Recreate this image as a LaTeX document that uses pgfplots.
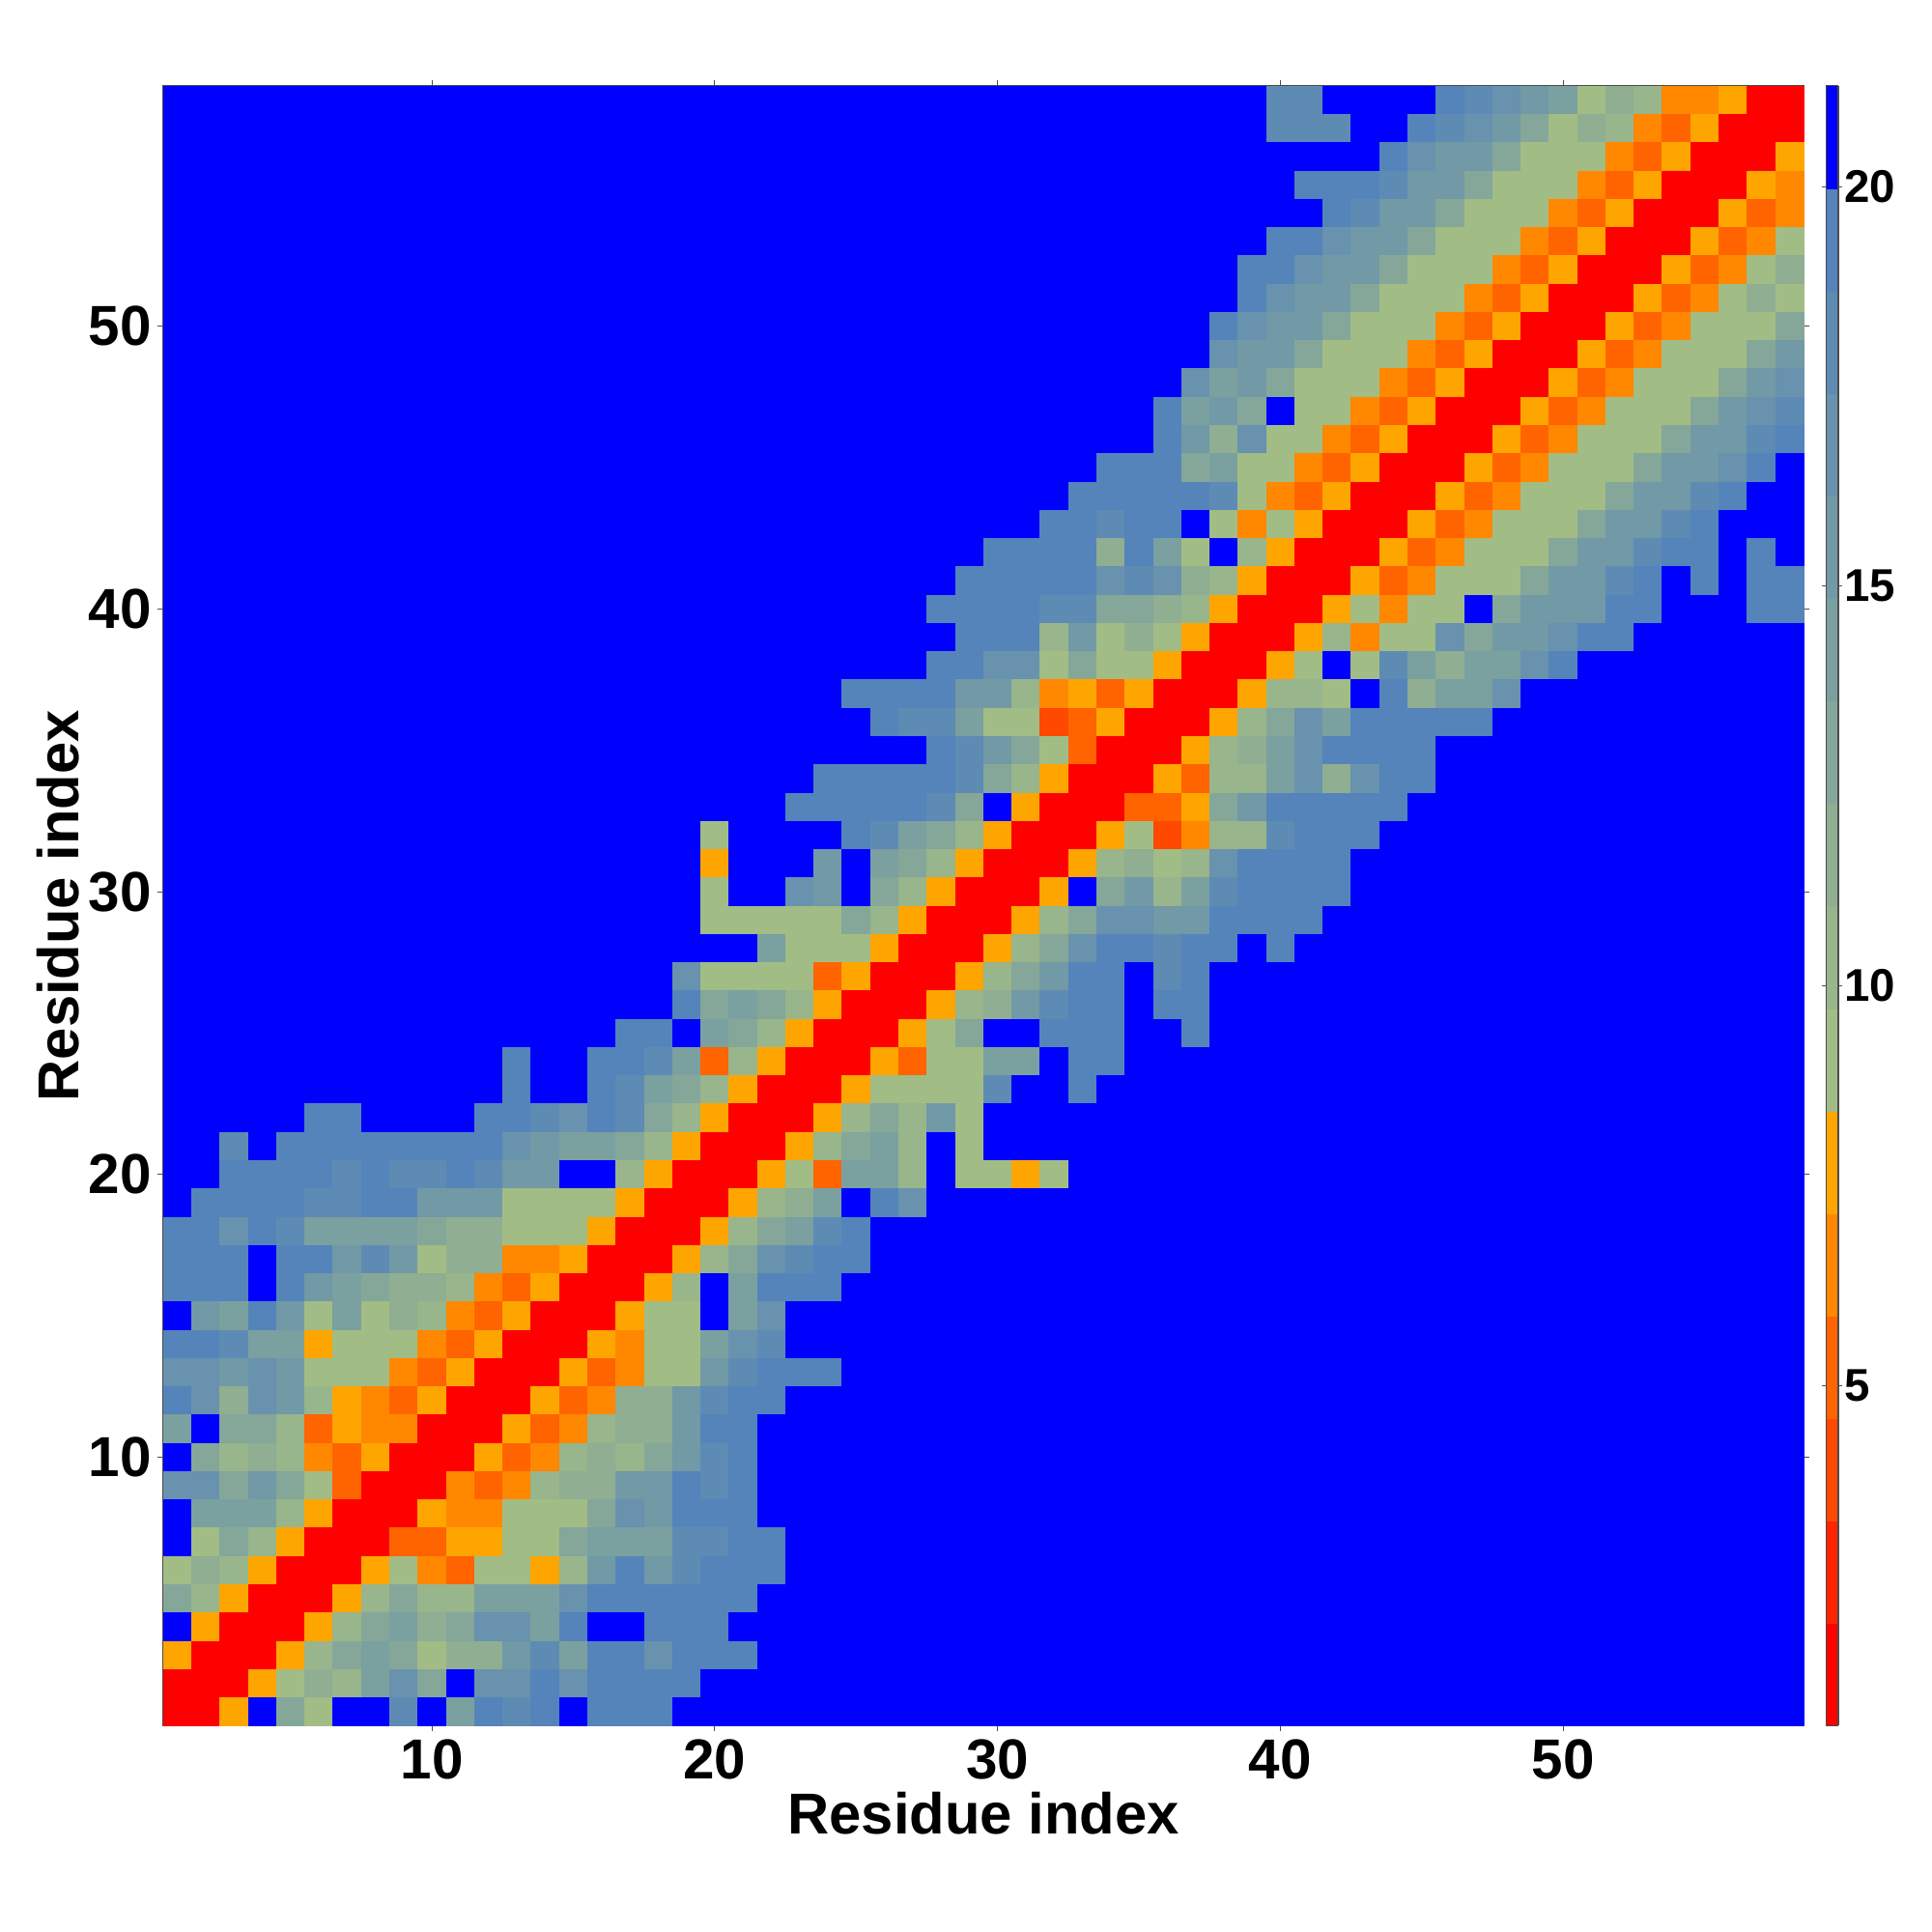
\documentclass[border=0pt]{standalone}
\usepackage{fontspec}
\setmainfont{Liberation Sans}
\usepackage{pgfplots}
\usepackage{pgfplotstable}
\pgfplotsset{compat=1.18}
\pgfplotstableread[header=false]{
21 21 21 21 21 21 21 21 21 21  21 21 21 21 21 21 21 21 21 21  21 21 21 21 21 21 21 21 21 21  21 21 21 21 21 21 21 21 21 18  18 21 21 21 21 19 18 17 15 14  9 12 10 6 6 8 1 1
21 21 21 21 21 21 21 21 21 21  21 21 21 21 21 21 21 21 21 21  21 21 21 21 21 21 21 21 21 21  21 21 21 21 21 21 21 21 21 18  18 18 21 21 19 18 17 15 13 9  12 10 6 5 8 1 1 1
21 21 21 21 21 21 21 21 21 21  21 21 21 21 21 21 21 21 21 21  21 21 21 21 21 21 21 21 21 21  21 21 21 21 21 21 21 21 21 21  21 21 21 19 17 15 15 13 9 9  9 6 5 8 1 1 1 8
21 21 21 21 21 21 21 21 21 21  21 21 21 21 21 21 21 21 21 21  21 21 21 21 21 21 21 21 21 21  21 21 21 21 21 21 21 21 21 21  19 19 19 18 15 15 13 9 9 9  6 5 8 1 1 1 8 6
21 21 21 21 21 21 21 21 21 21  21 21 21 21 21 21 21 21 21 21  21 21 21 21 21 21 21 21 21 21  21 21 21 21 21 21 21 21 21 21  21 19 18 15 15 13 9 9 9 6  5 8 1 1 1 8 5 6
21 21 21 21 21 21 21 21 21 21  21 21 21 21 21 21 21 21 21 21  21 21 21 21 21 21 21 21 21 21  21 21 21 21 21 21 21 21 21 19  19 17 15 15 13 9 9 9 6 5  8 1 1 1 8 5 6 9
21 21 21 21 21 21 21 21 21 21  21 21 21 21 21 21 21 21 21 21  21 21 21 21 21 21 21 21 21 21  21 21 21 21 21 21 21 21 19 19  17 15 15 13 9 9 9 6 5 8  1 1 1 8 5 6 9 12
21 21 21 21 21 21 21 21 21 21  21 21 21 21 21 21 21 21 21 21  21 21 21 21 21 21 21 21 21 21  21 21 21 21 21 21 21 21 19 17  15 15 13 9 9 9 6 5 8 1  1 1 8 5 6 9 12 9
21 21 21 21 21 21 21 21 21 21  21 21 21 21 21 21 21 21 21 21  21 21 21 21 21 21 21 21 21 21  21 21 21 21 21 21 21 19 17 15  15 13 9 9 9 6 5 8 1 1  1 8 5 6 9 9 9 13
21 21 21 21 21 21 21 21 21 21  21 21 21 21 21 21 21 21 21 21  21 21 21 21 21 21 21 21 21 21  21 21 21 21 21 21 21 17 15 15  13 9 9 9 6 5 8 1 1 1  8 5 6 9 9 9 13 15
21 21 21 21 21 21 21 21 21 21  21 21 21 21 21 21 21 21 21 21  21 21 21 21 21 21 21 21 21 21  21 21 21 21 21 21 17 14 15 13  9 9 9 6 5 8 1 1 1 8  5 6 9 9 9 13 15 17
21 21 21 21 21 21 21 21 21 21  21 21 21 21 21 21 21 21 21 21  21 21 21 21 21 21 21 21 21 21  21 21 21 21 21 19 14 15 13 21  9 9 6 5 8 1 1 1 8 5  6 9 9 9 13 15 17 18
21 21 21 21 21 21 21 21 21 21  21 21 21 21 21 21 21 21 21 21  21 21 21 21 21 21 21 21 21 21  21 21 21 21 21 19 15 12 17 9  9 6 5 8 1 1 1 8 5 6  9 9 9 13 15 15 18 19
21 21 21 21 21 21 21 21 21 21  21 21 21 21 21 21 21 21 21 21  21 21 21 21 21 21 21 21 21 21  21 21 21 19 19 19 13 14 9 9  6 5 8 1 1 1 8 5 6 9  9 9 13 15 15 17 19 21
21 21 21 21 21 21 21 21 21 21  21 21 21 21 21 21 21 21 21 21  21 21 21 21 21 21 21 21 21 21  21 21 19 19 19 19 19 18 9 6  5 8 1 1 1 8 5 6 9 9  9 13 15 15 18 19 21 21
21 21 21 21 21 21 21 21 21 21  21 21 21 21 21 21 21 21 21 21  21 21 21 21 21 21 21 21 21 21  21 19 19 18 19 19 21 9 6 9  8 1 1 1 8 5 6 9 9 9  13 15 15 18 19 21 21 21
21 21 21 21 21 21 21 21 21 21  21 21 21 21 21 21 21 21 21 21  21 21 21 21 21 21 21 21 21 19  19 19 19 12 19 14 9 21 10 8  1 1 1 8 5 6 9 9 9 13  15 15 18 19 19 21 19 21
21 21 21 21 21 21 21 21 21 21  21 21 21 21 21 21 21 21 21 21  21 21 21 21 21 21 21 21 19 19  19 19 19 17 18 17 12 10 8 1  1 1 8 5 6 9 9 9 13 15  15 18 19 21 19 21 19 19
21 21 21 21 21 21 21 21 21 21  21 21 21 21 21 21 21 21 21 21  21 21 21 21 21 21 21 19 19 19  19 18 18 13 13 12 10 8 1 1  1 8 9 6 9 9 21 13 15 15  15 19 19 21 21 21 19 19
21 21 21 21 21 21 21 21 21 21  21 21 21 21 21 21 21 21 21 21  21 21 21 21 21 21 21 21 19 19  19 10 15 9 12 9 8 1 1 1  8 10 6 9 9 17 13 15 15 17  19 19 21 21 21 21 21 21
21 21 21 21 21 21 21 21 21 21  21 21 21 21 21 21 21 21 21 21  21 21 21 21 21 21 21 19 19 17  17 9 13 9 9 8 1 1 1 8  9 21 9 18 14 12 14 14 17 19  21 21 21 21 21 21 21 21
21 21 21 21 21 21 21 21 21 21  21 21 21 21 21 21 21 21 21 21  21 21 21 21 19 19 19 19 15 15  10 6 8 5 8 1 1 1 8 10  10 9 21 19 12 14 14 17 21 21  21 21 21 21 21 21 21 21
21 21 21 21 21 21 21 21 21 21  21 21 21 21 21 21 21 21 21 21  21 21 21 21 21 19 18 18 14 9  9 4 5 8 1 1 1 8 10 13  17 14 19 19 19 19 19 21 21 21  21 21 21 21 21 21 21 21
21 21 21 21 21 21 21 21 21 21  21 21 21 21 21 21 21 21 21 21  21 21 21 21 21 21 21 19 18 15  13 9 5 1 1 1 8 10 12 14  17 19 19 19 19 21 21 21 21 21  21 21 21 21 21 21 21 21
21 21 21 21 21 21 21 21 21 21  21 21 21 21 21 21 21 21 21 21  21 21 21 19 19 19 19 19 18 13  10 8 1 1 1 8 5 10 10 14  17 12 17 19 19 21 21 21 21 21  21 21 21 21 21 21 21 21
21 21 21 21 21 21 21 21 21 21  21 21 21 21 21 21 21 21 21 21  21 21 19 19 19 19 19 18 13 21  8 1 1 1 5 5 8 13 15 19  19 19 19 19 21 21 21 21 21 21  21 21 21 21 21 21 21 21
21 21 21 21 21 21 21 21 21 21  21 21 21 21 21 21 21 21 21 9  21 21 21 21 19 18 14 13 10 8  1 1 1 8 9 4 6 10 10 18  19 19 19 21 21 21 21 21 21 21  21 21 21 21 21 21 21 21
21 21 21 21 21 21 21 21 21 21  21 21 21 21 21 21 21 21 21 8  21 21 21 15 21 14 13 10 8 1  1 1 8 10 12 9 10 17 19 19  19 19 21 21 21 21 21 21 21 21  21 21 21 21 21 21 21 21
21 21 21 21 21 21 21 21 21 21  21 21 21 21 21 21 21 21 21 9  21 21 17 15 21 13 10 8 1 1  1 8 21 13 15 10 14 18 19 19  19 19 21 21 21 21 21 21 21 21  21 21 21 21 21 21 21 21
21 21 21 21 21 21 21 21 21 21  21 21 21 21 21 21 21 21 21 9  9 9 9 9 13 10 8 1 1 1  8 10 13 17 17 15 15 19 19 19  19 21 21 21 21 21 21 21 21 21  21 21 21 21 21 21 21 21
21 21 21 21 21 21 21 21 21 21  21 21 21 21 21 21 21 21 21 21  21 14 9 9 9 8 1 1 1 8  10 13 17 19 19 18 19 19 21 19  21 21 21 21 21 21 21 21 21 21  21 21 21 21 21 21 21 21
21 21 21 21 21 21 21 21 21 21  21 21 21 21 21 21 21 21 17 9  9 9 9 5 8 1 1 1 8 10  13 15 19 19 21 18 19 21 21 21  21 21 21 21 21 21 21 21 21 21  21 21 21 21 21 21 21 21
21 21 21 21 21 21 21 21 21 21  21 21 21 21 21 21 21 21 19 13  14 13 10 8 1 1 1 8 10 12  15 18 19 19 21 19 19 21 21 21  21 21 21 21 21 21 21 21 21 21  21 21 21 21 21 21 21 21
21 21 21 21 21 21 21 21 21 21  21 21 21 21 21 21 19 19 21 14  13 10 8 1 1 1 8 9 13 21  21 19 19 19 21 21 19 21 21 21  21 21 21 21 21 21 21 21 21 21  21 21 21 21 21 21 21 21
21 21 21 21 21 21 21 21 21 21  21 21 19 21 21 19 19 18 14 5  10 8 1 1 1 8 5 9 9 14  14 21 19 19 21 21 21 21 21 21  21 21 21 21 21 21 21 21 21 21  21 21 21 21 21 21 21 21
21 21 21 21 21 21 21 21 21 21  21 21 19 21 21 19 18 14 13 10  8 1 1 1 8 9 9 9 9 18  21 21 19 21 21 21 21 21 21 21  21 21 21 21 21 21 21 21 21 21  21 21 21 21 21 21 21 21
21 21 21 21 21 19 19 21 21 21  21 19 19 18 17 19 18 13 10 8  1 1 1 8 10 13 10 15 9 21  21 21 21 21 21 21 21 21 21 21  21 21 21 21 21 21 21 21 21 21  21 21 21 21 21 21 21 21
21 21 18 21 19 19 19 19 19 19  19 19 17 15 14 14 13 10 8 1  1 1 8 10 13 14 10 21 9 21  21 21 21 21 21 21 21 21 21 21  21 21 21 21 21 21 21 21 21 21  21 21 21 21 21 21 21 21
21 21 19 19 19 19 18 19 18 18  19 18 15 15 21 21 10 8 1 1  1 8 9 5 14 14 10 21 9 9  8 9 21 21 21 21 21 21 21 21  21 21 21 21 21 21 21 21 21 21  21 21 21 21 21 21 21 21
21 19 19 19 19 18 18 19 19 15  15 15 9 9 9 9 8 1 1 1  8 10 12 14 21 19 17 21 21 21  21 21 21 21 21 21 21 21 21 21  21 21 21 21 21 21 21 21 21 21  21 21 21 21 21 21 21 21
19 19 17 19 18 14 14 14 14 13  12 12 9 9 9 8 1 1 1 8  10 13 14 18 19 21 21 21 21 21  21 21 21 21 21 21 21 21 21 21  21 21 21 21 21 21 21 21 21 21  21 21 21 21 21 21 21 21
19 19 19 21 19 19 15 18 15 9  12 12 6 6 8 1 1 1 8 10  13 17 18 19 19 21 21 21 21 21  21 21 21 21 21 21 21 21 21 21  21 21 21 21 21 21 21 21 21 21  21 21 21 21 21 21 21 21
19 19 19 21 19 15 14 13 12 12  10 6 5 8 1 1 1 8 10 21  14 19 19 19 21 21 21 21 21 21  21 21 21 21 21 21 21 21 21 21  21 21 21 21 21 21 21 21 21 21  21 21 21 21 21 21 21 21
21 15 14 19 15 9 14 9 12 10  6 5 8 1 1 1 8 9 9 21  14 17 21 21 21 21 21 21 21 21  21 21 21 21 21 21 21 21 21 21  21 21 21 21 21 21 21 21 21 21  21 21 21 21 21 21 21 21
19 19 18 14 14 8 9 9 9 6  5 8 1 1 1 8 6 9 9 14  17 18 21 21 21 21 21 21 21 21  21 21 21 21 21 21 21 21 21 21  21 21 21 21 21 21 21 21 21 21  21 21 21 21 21 21 21 21
17 17 15 17 15 9 9 9 6 5  8 1 1 1 8 5 6 9 9 15  18 19 19 19 21 21 21 21 21 21  21 21 21 21 21 21 21 21 21 21  21 21 21 21 21 21 21 21 21 21  21 21 21 21 21 21 21 21
19 17 12 17 15 10 8 6 5 8  1 1 1 8 5 6 12 12 15 18  19 19 21 21 21 21 21 21 21 21  21 21 21 21 21 21 21 21 21 21  21 21 21 21 21 21 21 21 21 21  21 21 21 21 21 21 21 21
14 21 13 13 10 5 8 6 6 1  1 1 8 5 6 10 12 12 15 19  19 21 21 21 21 21 21 21 21 21  21 21 21 21 21 21 21 21 21 21  21 21 21 21 21 21 21 21 21 21  21 21 21 21 21 21 21 21
21 13 10 12 10 6 5 8 1 1  1 8 5 6 10 12 10 13 15 18  19 21 21 21 21 21 21 21 21 21  21 21 21 21 21 21 21 21 21 21  21 21 21 21 21 21 21 21 21 21  21 21 21 21 21 21 21 21
17 17 13 15 13 9 5 1 1 1  6 5 6 10 12 12 15 15 19 18  19 21 21 21 21 21 21 21 21 21  21 21 21 21 21 21 21 21 21 21  21 21 21 21 21 21 21 21 21 21  21 21 21 21 21 21 21 21
21 14 14 14 10 8 1 1 1 8  6 6 9 9 9 13 17 15 19 19  19 21 21 21 21 21 21 21 21 21  21 21 21 21 21 21 21 21 21 21  21 21 21 21 21 21 21 21 21 21  21 21 21 21 21 21 21 21
21 9 13 10 8 1 1 1 5 5  8 8 9 9 13 14 14 14 18 18  19 19 21 21 21 21 21 21 21 21  21 21 21 21 21 21 21 21 21 21  21 21 21 21 21 21 21 21 21 21  21 21 21 21 21 21 21 21
9 12 10 8 1 1 1 8 9 6  5 9 9 8 10 15 19 15 18 19  19 19 21 21 21 21 21 21 21 21  21 21 21 21 21 21 21 21 21 21  21 21 21 21 21 21 21 21 21 21  21 21 21 21 21 21 21 21
13 10 8 1 1 1 8 10 13 10  10 14 14 14 17 19 19 19 19 19  19 21 21 21 21 21 21 21 21 21  21 21 21 21 21 21 21 21 21 21  21 21 21 21 21 21 21 21 21 21  21 21 21 21 21 21 21 21
21 8 1 1 1 8 10 13 14 12  13 17 17 14 19 21 21 19 19 19  21 21 21 21 21 21 21 21 21 21  21 21 21 21 21 21 21 21 21 21  21 21 21 21 21 21 21 21 21 21  21 21 21 21 21 21 21 21
8 1 1 1 8 10 13 14 13 9  12 12 15 18 14 19 19 17 19 19  19 21 21 21 21 21 21 21 21 21  21 21 21 21 21 21 21 21 21 21  21 21 21 21 21 21 21 21 21 21  21 21 21 21 21 21 21 21
1 1 1 8 9 12 10 14 17 13  21 17 17 19 17 19 19 19 19 21  21 21 21 21 21 21 21 21 21 21  21 21 21 21 21 21 21 21 21 21  21 21 21 21 21 21 21 21 21 21  21 21 21 21 21 21 21 21
1 1 8 21 13 9 21 21 18 21  14 19 18 19 21 19 19 19 21 21  21 21 21 21 21 21 21 21 21 21  21 21 21 21 21 21 21 21 21 21  21 21 21 21 21 21 21 21 21 21  21 21 21 21 21 21 21 21
}\cells
\begin{document}
\begin{tikzpicture}
\path[use as bounding box] (0,0) rectangle (20cm,20cm);
\begin{axis}[
  at={(1.69cm,2.135cm)}, anchor=south west,
  scale only axis, width=16.98cm, height=16.975cm,
  xmin=0.5, xmax=58.5, ymin=0.5, ymax=58.5,
  xtick={10,20,30,40,50}, ytick={10,20,30,40,50},
  tick align=outside, major tick length=0.6mm,
  every tick/.style={line width=0.3pt,black!70},
  axis line style={line width=0.3pt,black!70},
  /pgf/number format/assume math mode=true,
  tick label style={font=\bfseries\fontsize{16.6}{18}\selectfont},
  xticklabel style={yshift=0.4mm},
  yticklabel style={xshift=0.6mm},
  xlabel={Residue index}, ylabel={Residue index},
  label style={font=\bfseries\fontsize{17}{19}\selectfont},
  xlabel style={at={(axis description cs:0.5,0)},anchor=center,yshift=-0.91cm},
  ylabel style={at={(axis description cs:0,0.5)},anchor=center,yshift=1.09cm},
  colormap={resid}{rgb255=(255,0,0) rgb255=(255,36,0) rgb255=(255,72,0) rgb255=(255,100,0)
    rgb255=(255,136,0) rgb255=(255,165,0) rgb255=(162,188,133) rgb255=(152,181,140)
    rgb255=(143,174,146) rgb255=(133,167,153) rgb255=(123,160,160) rgb255=(113,153,166)
    rgb255=(104,146,173) rgb255=(94,139,179) rgb255=(84,132,186) rgb255=(0,0,255)},
  colormap access=piecewise constant,
  point meta min=0.74, point meta max=21.26,
  colorbar sampled,
  colorbar style={
    samples=17,
    at={(1.0137,0)}, anchor=south west,
    scale only axis, width=0.127cm, height=16.975cm,
    ytick={5,10,15,20},
    tick align=outside, major tick length=0.4mm,
    every tick/.style={line width=0.3pt,black!70},
    axis line style={line width=0.3pt,black!70},
    /pgf/number format/assume math mode=true,
    yticklabel style={font=\bfseries\fontsize{13.5}{15}\selectfont,xshift=-1mm},
  },
]
\pgfplotsinvokeforeach{0,...,57}{
  \addplot[scatter, only marks, mark=square*, mark size=4.16pt, scatter src=explicit,
    scatter/use mapped color={draw=mapped color,fill=mapped color},
    mark options={line width=0.1pt}]
    table[x expr={#1+1}, y expr={58-\coordindex}, meta index=#1] {\cells};
}
\end{axis}
\end{tikzpicture}
\end{document}
